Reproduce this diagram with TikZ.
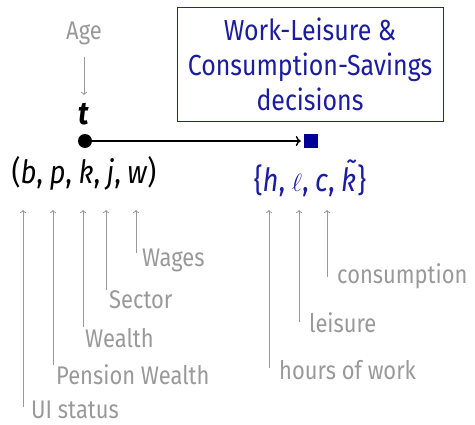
\documentclass[tikz,border=0pt]{standalone}
\usepackage{fontspec}
\setmainfont{Fira Sans}[FakeStretch=0.86]
\usetikzlibrary{arrows.meta}
\definecolor{labelgray}{HTML}{999999}
\definecolor{decblue}{HTML}{1C1CA0}
\definecolor{boxblue}{HTML}{2222A0}
\definecolor{sqblue}{HTML}{000099}
\newcommand{\vsep}{,\hspace{6.5pt}}
\begin{document}
\begin{tikzpicture}[x=1pt,y=-1pt,
  lbl/.style={text=labelgray, font=\fontsize{25.5}{30}\selectfont, inner sep=0pt},
  ptr/.style={draw=labelgray, line width=0.8pt, -{To[length=3pt,width=6pt]}},
  bigtxt/.style={font=\fontsize{29}{35}\selectfont, inner sep=0pt},
  vectxt/.style={font=\fontsize{32}{35}\selectfont, inner sep=0pt}]
\useasboundingbox (0,0) rectangle (475,425);

% decision box
\node[bigtxt, draw=boxblue, line width=0.9pt, text=decblue, align=center,
      minimum width=266pt, minimum height=114pt] (box) at (310,64)
  {Work-Leisure \&\\Consumption-Savings\\decisions};

% age and time
\node[lbl] (age) at (84,33) {Age};
\node[vectxt] (t) at (84,114) {\textbf{\textit{t}}};
\coordinate (agebot) at (84,57);
\coordinate (agetip) at (84,95);
\draw[ptr] (agebot) -- (agetip);

% timeline
\node[circle, fill=black, minimum size=14pt, inner sep=0pt] (now) at (85,141) {};
\node[fill=sqblue, minimum size=14pt, inner sep=0pt] (next) at (311,141) {};
\draw[line width=1.4pt, -{To[length=5pt,width=10pt]}, shorten >=3pt] (now) -- (next);

% state and choice vectors
\node[vectxt] (state) at (84,173)
  {(\textit{b}\vsep\textit{p}\vsep\textit{k}\vsep\textit{j}\vsep\textit{w})};
\node[vectxt, text=decblue] (choice) at (310,178)
  {\{\textit{h}\vsep$\ell$\vsep\textit{c}\vsep\textit{\~k}\}};

\coordinate (top) at (0,210);

% labels with pointers
\foreach \nm/\ax/\ab/\lx/\ly/\txt in {
    wages/136/253/142/260/Wages,
    sector/106/290/109/300/Sector,
    wealth/83/327/85/338/Wealth,
    pension/53/365/56/375/Pension Wealth,
    ui/23/407/31/410/UI status,
    cons/327/277/337/276/consumption,
    leis/299/322/309/323/leisure,
    hours/269/368/279/370/hours of work}{
  \node[lbl, anchor=west] (\nm) at (\lx,\ly) {\txt};
  \coordinate (\nm-a) at (\ax,\ab);
  \draw[ptr] (\nm-a) -- (\nm-a |- top);
}
\end{tikzpicture}
\end{document}
